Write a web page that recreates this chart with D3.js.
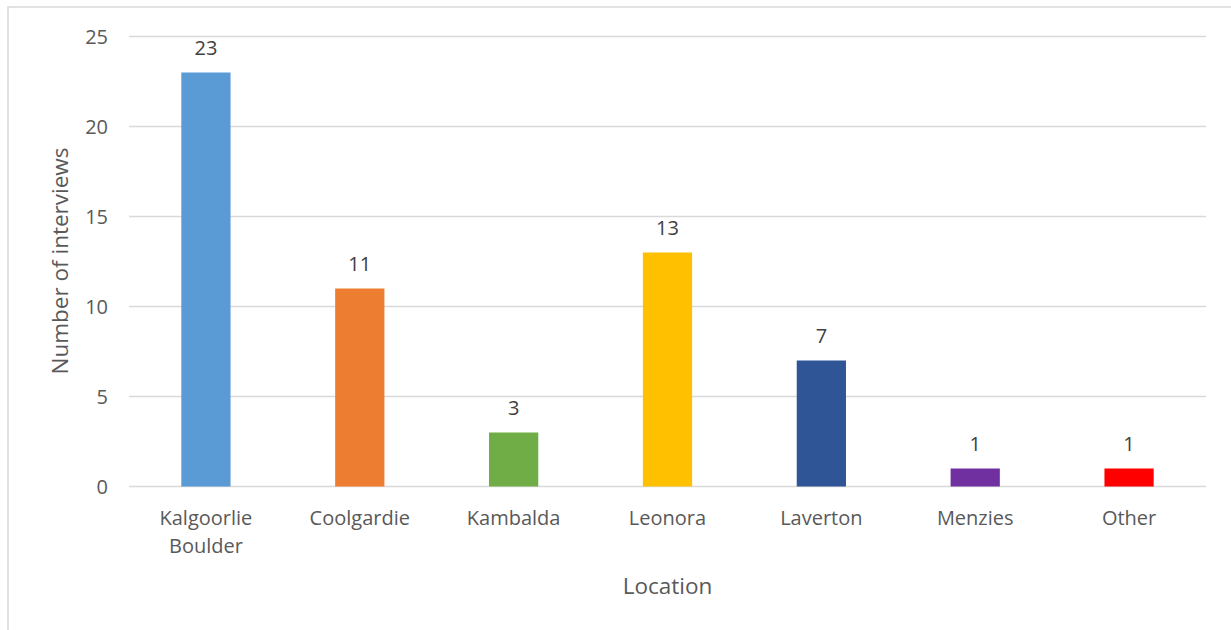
<!DOCTYPE html>
<html><head><meta charset="utf-8">
<script src="https://cdn.jsdelivr.net/npm/d3@7"></script>
<style>body{margin:0;background:#fff;} svg{display:block;font-family:"Open Sans",sans-serif;}</style>
</head><body>
<svg id="c" width="1231" height="630"></svg>
<script>
const categories = ["Kalgoorlie Boulder","Coolgardie","Kambalda","Leonora","Laverton","Menzies","Other"];
const values = [23, 11, 3, 13, 7, 1, 1];
const colors = ["#5B9BD5","#ED7D31","#70AD47","#FFC000","#2F5597","#7030A0","#FF0000"];
const yTicks = [0,5,10,15,20,25];

const svg = d3.select("#c");
svg.append("rect").attr("x",8).attr("y",7).attr("width",1240).attr("height",640)
  .attr("fill","none").attr("stroke","#d9d9d9").attr("stroke-width",1.5);

const m = {left:129, right:1206, top:36.5, bottom:486.5};
const x = d3.scaleBand().domain(categories).range([m.left,m.right]).paddingInner(0.68).paddingOuter(0.34);
const y = d3.scaleLinear().domain([0,25]).range([m.bottom,m.top]);

const g = svg.append("g");
g.selectAll("line.grid").data(yTicks).join("line").attr("class","grid")
  .attr("x1",m.left).attr("x2",m.right).attr("y1",d=>y(d)).attr("y2",d=>y(d))
  .attr("stroke","#d9d9d9").attr("stroke-width",1.5);

g.selectAll("text.yt").data(yTicks).join("text").attr("class","yt")
  .attr("x",108).attr("y",d=>y(d)).attr("dy","0.35em").attr("text-anchor","end")
  .attr("font-size",20).attr("fill","#595959").text(d=>d);

g.selectAll("rect.bar").data(values).join("rect").attr("class","bar")
  .attr("x",(d,i)=>x(categories[i])).attr("width",x.bandwidth())
  .attr("y",d=>y(d)).attr("height",d=>y(0)-y(d)).attr("fill",(d,i)=>colors[i]);

g.selectAll("text.val").data(values).join("text").attr("class","val")
  .attr("x",(d,i)=>x(categories[i])+x.bandwidth()/2).attr("y",d=>y(d)-18)
  .attr("text-anchor","middle").attr("font-size",20).attr("fill","#404040").text(d=>d);

const cl = g.selectAll("text.cat").data(categories).join("text").attr("class","cat")
  .attr("x",d=>x(d)+x.bandwidth()/2).attr("y",525).attr("text-anchor","middle")
  .attr("font-size",20).attr("fill","#595959");
cl.each(function(d){
  const words = d.split(" ");
  const t = d3.select(this);
  words.forEach((w,i)=>t.append("tspan").attr("x",t.attr("x")).attr("dy",i?28:0).text(w));
});

svg.append("text").attr("x",(m.left+m.right)/2).attr("y",594).attr("text-anchor","middle")
  .attr("font-size",22.5).attr("fill","#595959").text("Location");
svg.append("text").attr("transform","translate(68,261) rotate(-90)").attr("text-anchor","middle")
  .attr("font-size",22.5).attr("fill","#595959").text("Number of interviews");
</script>
</body></html>
